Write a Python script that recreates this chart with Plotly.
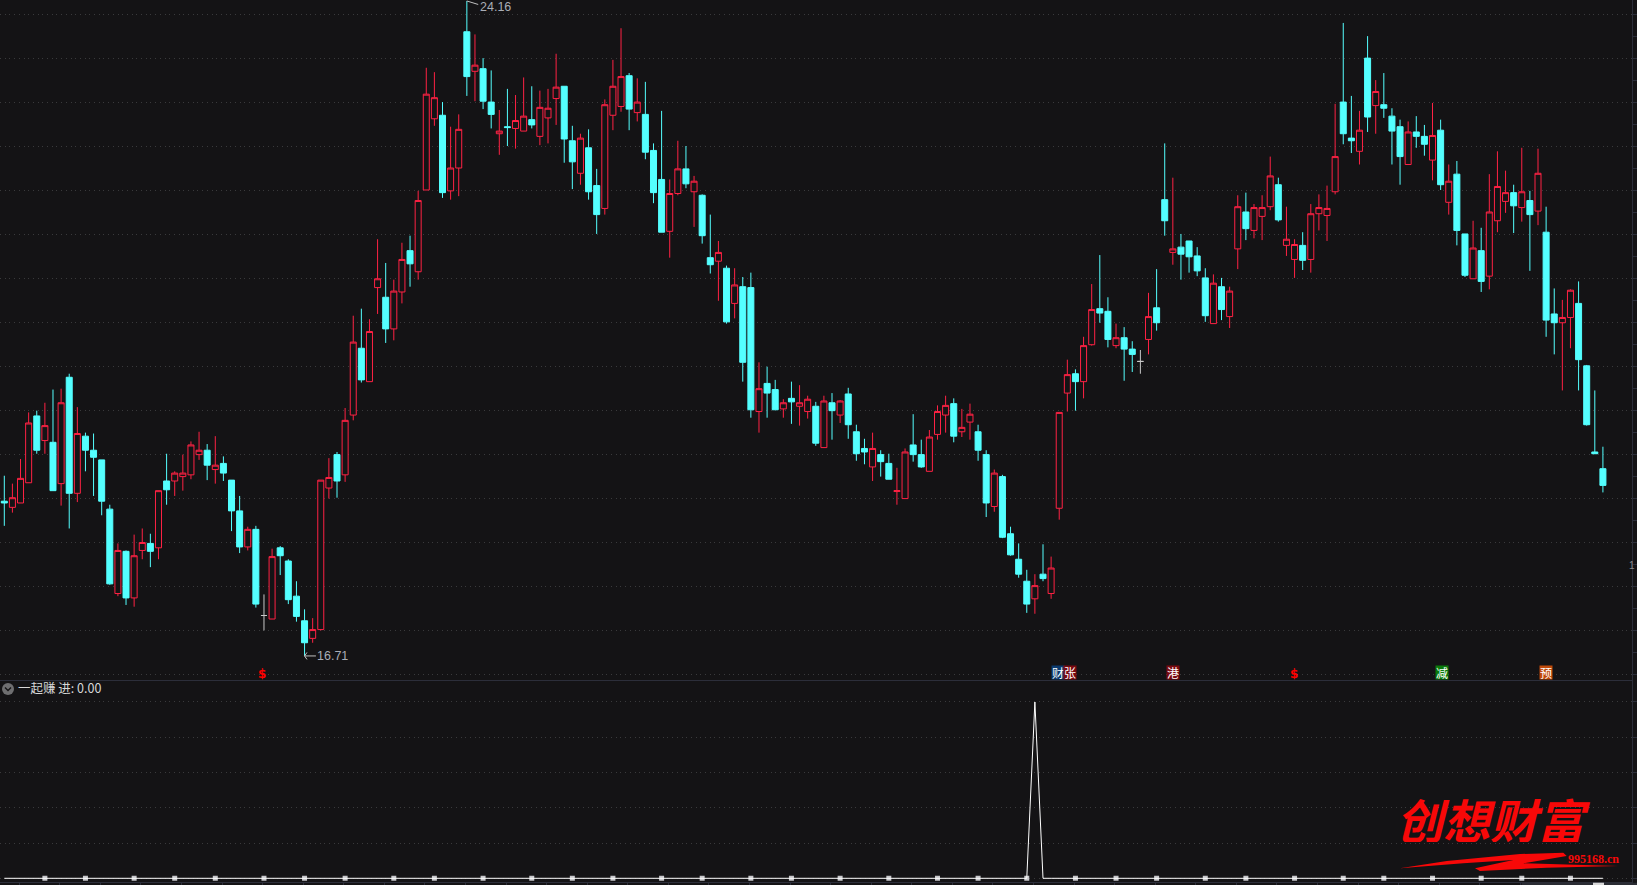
import plotly.graph_objects as go

opens = [18.47,18.40,18.45,18.68,19.44,19.16,19.14,18.67,19.88,18.56,
19.21,19.05,18.94,18.38,17.42,17.90,17.37,17.91,17.99,17.94,
18.70,18.70,18.75,18.77,19.00,19.05,18.83,18.90,18.71,18.36,
17.95,18.15,17.17,17.13,17.94,17.79,17.39,17.11,16.91,17.01,
18.62,19.00,18.77,19.45,20.21,19.83,20.90,20.79,20.43,20.85,
21.32,21.08,22.01,22.82,22.86,22.00,22.26,23.81,23.36,23.39,
23.01,22.65,22.73,22.71,22.68,22.81,22.62,22.83,23.05,23.19,
22.57,22.20,22.49,22.06,21.80,22.86,22.96,23.31,22.89,22.87,
22.46,22.13,21.54,21.97,22.25,21.99,21.95,21.24,21.20,21.12,
20.72,20.91,20.90,19.49,19.81,19.74,19.52,19.64,19.55,19.49,
19.55,19.08,19.59,19.45,19.69,19.26,19.07,18.86,19.00,18.90,
18.58,18.50,19.11,19.00,18.81,19.23,19.45,19.58,19.26,19.37,
19.26,19.00,18.41,18.75,18.10,17.81,17.56,17.36,17.64,17.42,
18.39,19.70,19.92,19.83,20.25,20.66,20.63,20.24,20.33,20.20,
20.06,20.31,20.67,21.90,21.30,21.36,21.43,21.26,21.01,20.49,
20.91,20.57,21.34,21.76,21.55,21.71,21.82,22.07,21.38,21.22,
21.38,21.22,21.74,21.72,21.99,23.01,22.60,22.45,23.51,22.97,
22.98,22.85,22.73,22.30,22.67,22.62,22.35,22.69,21.87,22.19,
21.51,21.00,21.32,21.03,21.66,21.88,21.98,21.81,21.89,21.77,
21.53,20.60,20.50,20.56,20.72,20.01,19.03,18.84]

closes = [18.45,18.51,18.73,19.36,19.05,19.33,18.59,19.59,18.56,19.24,
19.05,18.97,18.47,17.53,17.91,17.37,17.85,18.00,17.90,18.59,
18.60,18.79,18.79,19.11,19.05,18.88,18.88,18.79,18.36,17.95,
18.15,17.30,17.17,17.84,17.85,17.35,17.16,16.86,17.01,18.71,
18.74,18.70,19.39,20.28,19.85,20.40,21.00,20.43,20.86,21.22,
21.17,21.89,23.10,23.06,21.98,22.26,22.70,23.30,23.43,23.02,
22.87,22.68,22.72,22.80,22.85,22.75,22.95,22.94,23.18,22.59,
22.33,22.60,21.99,21.73,22.98,23.19,23.30,22.93,23.01,22.44,
21.98,21.53,21.97,22.25,22.08,22.11,21.49,21.16,21.30,20.51,
20.93,20.05,19.51,19.75,19.70,19.51,19.59,19.60,19.59,19.63,
19.13,19.61,19.50,19.61,19.34,19.01,19.03,19.07,18.92,18.72,
18.59,19.03,19.00,18.86,19.20,19.49,19.56,19.21,19.31,19.46,
19.05,18.45,18.79,18.06,17.86,17.64,17.30,17.51,17.59,17.71,
19.48,19.91,19.83,20.24,20.65,20.61,20.31,20.33,20.20,20.14,
20.06,20.57,20.50,21.66,21.34,21.28,21.25,21.09,20.58,20.95,
20.65,20.86,21.82,21.57,21.81,21.81,22.17,21.67,21.45,21.39,
21.21,21.74,21.81,21.80,22.39,22.65,22.57,22.69,22.84,23.13,
22.94,22.68,22.39,22.67,22.62,22.53,22.63,22.07,22.11,21.55,
21.04,21.35,20.97,21.76,22.05,21.98,21.83,21.99,21.73,22.20,
20.53,20.50,20.56,20.87,20.08,19.34,19.01,18.65]

highs = [18.76,18.67,18.95,19.48,19.50,19.59,19.74,19.75,19.92,19.54,
19.25,19.24,18.94,18.43,17.99,17.91,18.09,18.16,18.10,18.59,
19.01,18.81,19.00,19.15,19.26,19.12,19.21,18.98,18.71,18.53,
18.18,18.19,17.41,17.93,17.96,17.81,17.56,17.24,17.14,18.71,
18.96,19.03,19.53,20.58,20.66,20.54,21.45,21.18,20.99,21.41,
21.49,22.00,23.40,23.35,23.01,22.73,22.87,24.16,23.78,23.51,
23.37,22.92,23.16,23.09,23.29,23.19,23.14,23.16,23.56,23.19,
22.74,22.65,22.70,22.25,23.04,23.49,23.85,23.34,23.28,23.24,
22.54,22.91,22.13,22.57,22.51,22.17,21.96,21.73,21.43,21.15,
21.12,21.02,21.07,20.05,20.00,19.85,19.63,19.83,19.79,19.67,
19.60,19.67,19.70,19.62,19.76,19.34,19.18,19.25,19.05,19.01,
18.85,19.07,19.46,19.17,19.28,19.56,19.67,19.64,19.52,19.58,
19.34,19.05,18.83,18.77,18.18,17.99,17.69,17.64,17.98,17.84,
19.48,20.08,19.97,20.34,20.94,21.27,20.79,20.49,20.45,20.29,
20.19,20.84,21.11,22.54,22.15,21.51,21.43,21.36,21.12,21.05,
21.01,20.91,21.95,21.98,21.85,21.95,22.39,22.15,21.82,21.45,
21.53,21.85,21.96,22.06,22.99,23.91,23.08,22.91,23.76,23.26,
23.34,22.94,22.81,22.79,22.85,22.75,23.00,22.81,22.30,22.34,
21.51,21.66,21.58,22.19,22.45,22.23,22.07,22.49,22.00,22.48,
21.82,20.89,20.76,20.88,20.97,20.02,19.73,19.09]

lows = [18.19,18.34,18.45,18.68,19.01,19.01,18.59,18.42,18.16,18.46,
18.81,18.53,18.31,17.52,17.39,17.29,17.27,17.81,17.72,17.81,
18.43,18.53,18.59,18.72,18.94,18.71,18.67,18.70,18.13,17.88,
17.91,17.26,17.00,17.13,17.63,17.30,17.10,16.71,16.86,17.00,
18.50,18.51,18.69,19.39,19.82,19.83,20.60,20.27,20.30,20.72,
20.91,20.99,22.01,22.74,21.92,21.90,21.94,23.08,23.02,22.93,
22.71,22.41,22.51,22.48,22.68,22.71,22.52,22.54,22.75,22.32,
22.02,22.07,21.90,21.51,21.73,22.69,22.90,22.69,22.79,22.36,
21.86,21.53,21.24,21.95,22.03,21.59,21.40,21.06,20.75,20.49,
20.55,19.83,19.42,19.25,19.42,19.51,19.42,19.35,19.33,19.41,
19.10,19.08,19.17,19.36,19.18,18.93,18.89,18.70,18.75,18.72,
18.43,18.50,18.92,18.85,18.81,19.17,19.25,19.14,19.20,19.17,
18.93,18.29,18.35,18.05,17.85,17.60,17.20,17.19,17.56,17.36,
18.26,19.49,19.50,19.64,20.24,20.50,20.22,20.21,19.84,19.94,
19.92,20.14,20.41,21.49,21.16,20.99,21.07,21.03,20.51,20.49,
20.53,20.44,21.11,21.44,21.46,21.44,21.78,21.65,21.26,21.01,
21.10,21.07,21.55,21.43,21.96,22.53,22.43,22.30,22.67,22.65,
22.83,22.30,22.07,22.30,22.49,22.40,22.12,22.01,21.73,21.38,
21.02,21.00,20.85,20.88,21.53,21.75,21.52,21.65,21.09,21.61,
20.34,20.14,19.73,20.21,19.73,19.33,19.01,18.57]

signal_peak_bar = 127
signal_peak_value = 1.0
week_marker_bars = [5,10,16,21,26,32,37,42,48,53,59,65,70,75,81,86,92,97,103,109,115,120,
                    126,132,137,142,148,153,159,165,170,176,182,187,193]

event_labels = ["$", "财", "张", "港", "$", "减", "预"]
event_bars = [32, 130, 130, 144, 159, 177, 190]
event_shift = [-2, -1, 11, 0, -1, 1, 0]
event_bg = [None, "#0b3a6e", "#7a0a10", "#7a0a10", None, "#0a7a0a", "#c04a0a"]

W, H = 1637, 885
BG = "#141315"
RED = "#ff2244"
CYAN = "#54ffff"
GRAY = "#c8c8c8"
GRID = "#3a3a3c"
AXIS = "#2c2e3a"

def px(x): return x / W
def py(y): return 1 - y / H

bars = list(range(len(opens)))
up = [i for i in bars if closes[i] > opens[i]]
down = [i for i in bars if closes[i] < opens[i]]
flat = [i for i in bars if closes[i] == opens[i]]

def pick(seq, idx): return [seq[i] for i in idx]

fig = go.Figure()

def candle(idx, line, fill):
    fig.add_trace(go.Candlestick(
        x=idx, open=pick(opens, idx), high=pick(highs, idx),
        low=pick(lows, idx), close=pick(closes, idx),
        increasing=dict(line=dict(color=line, width=1), fillcolor=fill),
        decreasing=dict(line=dict(color=line, width=1), fillcolor=fill),
        whiskerwidth=0, xaxis="x", yaxis="y", showlegend=False, hoverinfo="skip"))

candle(up, RED, BG)
candle(down, CYAN, CYAN)
candle(flat, GRAY, GRAY)

signal = [0.0] * len(bars)
signal[signal_peak_bar] = signal_peak_value

fig.add_trace(go.Scatter(
    x=week_marker_bars, y=[0.0] * len(week_marker_bars), mode="markers",
    marker=dict(symbol="square", size=5, color="#c8c8cc", line=dict(width=0)),
    xaxis="x2", yaxis="y2", showlegend=False, hoverinfo="skip"))
fig.add_trace(go.Scatter(
    x=bars, y=signal, mode="lines", line=dict(color="#ffffff", width=1),
    xaxis="x2", yaxis="y2", showlegend=False, hoverinfo="skip"))

annotations = [
    dict(xref="x", yref="y", x=57, y=24.16, text="24.16", showarrow=False, xanchor="left",
         yanchor="middle", xshift=11, yshift=-6, font=dict(family="Liberation Sans", size=12.5, color="#a9adb5")),
    dict(xref="x", yref="y", x=37, y=16.71, text="16.71", showarrow=False, xanchor="left",
         yanchor="middle", xshift=10, yshift=0, font=dict(family="Liberation Sans", size=12.5, color="#a9adb5")),
    dict(xref="paper", yref="paper", x=px(16), y=py(687), text="一起赚 进: 0.00", showarrow=False,
         xanchor="left", yanchor="middle", font=dict(family="Noto Sans CJK SC", size=12.5, color="#d8d8d8")),
    dict(xref="paper", yref="paper", x=px(1493), y=py(818), text="<b><i>创想财富</i></b>", showarrow=False,
         width=200, height=48, xanchor="center", yanchor="middle",
         font=dict(family="Noto Sans CJK SC", size=47, color="#f80808")),
    dict(xref="paper", yref="paper", x=px(1593), y=py(859), text="<b>995168.cn</b>", showarrow=False,
         xanchor="center", yanchor="middle", font=dict(family="Liberation Sans Narrow", size=12, color="#f80808")),
    dict(xref="paper", yref="paper", x=px(1637), y=py(565), text="1", showarrow=False,
         xanchor="right", yanchor="middle", font=dict(family="Liberation Sans", size=10, color="#8a8a8a")),
]
for lab, bar, shift, bg in zip(event_labels, event_bars, event_shift, event_bg):
    if bg:
        annotations.append(dict(xref="x", yref="paper", x=bar, y=py(672.7), xshift=shift, text=lab,
            showarrow=False, width=12, height=13, bgcolor=bg, borderpad=0,
            font=dict(family="Noto Sans CJK SC", size=12, color="#ffffff"), xanchor="center", yanchor="middle"))
    else:
        annotations.append(dict(xref="x", yref="paper", x=bar, y=py(674), xshift=shift, text="<b>" + lab + "</b>",
            showarrow=False, font=dict(family="DejaVu Sans", size=12, color="#ff0000"), xanchor="center", yanchor="middle"))

def pts_path(pts):
    return "M " + " L ".join(f"{px(a):.5f},{py(b):.5f}" for a, b in pts) + " Z"

stroke = [(1400,868.3),(1446.7,861),(1520,854),(1563.3,852.7),(1566.7,856),(1523.3,863.3),(1618.3,866),
          (1546.7,867.7),(1480,871),(1475,868.3),(1513.3,860),(1463.3,863.3)]

shapes = [
    dict(type="path", xref="paper", yref="paper", path=pts_path(stroke), fillcolor="#f80808", line=dict(width=0)),
    dict(type="circle", xref="paper", yref="paper", x0=px(2), x1=px(14), y0=py(683), y1=py(695),
         fillcolor="#6e6e70", line=dict(width=0)),
    dict(type="path", xref="paper", yref="paper",
         path=f"M {px(5):.5f},{py(687.5):.5f} L {px(8):.5f},{py(690.5):.5f} L {px(11):.5f},{py(687.5):.5f}",
         line=dict(color="#141315", width=1.3)),
    dict(type="line", xref="x", yref="y", x0=57, y0=24.16, x1=58.4, y1=24.12, line=dict(color="#c0c0c0", width=1)),
    dict(type="line", xref="x", yref="y", x0=37, y0=16.71, x1=38.4, y1=16.71, line=dict(color="#c0c0c0", width=1)),
    dict(type="line", xref="x", yref="y", x0=37, y0=16.71, x1=37.3, y1=16.75, line=dict(color="#c0c0c0", width=1)),
    dict(type="line", xref="x", yref="y", x0=37, y0=16.71, x1=37.3, y1=16.67, line=dict(color="#c0c0c0", width=1)),
    dict(type="rect", xref="paper", yref="paper", x0=px(1521.6), x1=1, y0=0, y1=py(882.7),
         fillcolor="#2a2c33", line=dict(width=0)),
    dict(type="rect", xref="paper", yref="paper", x0=px(1593), x1=px(1604), y0=0, y1=py(882.7),
         fillcolor="#d8d8d8", line=dict(width=0)),
]

grid_dash = "1px,3.7px"
x_range = [-0.53, 200.62]
fig.update_layout(
    width=W, height=H, margin=dict(l=0, r=0, t=0, b=0),
    paper_bgcolor=BG, plot_bgcolor=BG, showlegend=False, hovermode=False,
    boxmode="overlay", boxgap=0.26, boxgroupgap=0,
    annotations=annotations, shapes=shapes,
    xaxis=dict(domain=[0, 1632.3 / W], range=x_range, anchor="y", showgrid=False, zeroline=False,
               showticklabels=False, ticks="", showline=True, linecolor=AXIS, linewidth=1,
               rangeslider=dict(visible=False)),
    yaxis=dict(domain=[py(680.3), 1], range=[16.433, 24.171], anchor="x", side="right", showgrid=True,
               gridcolor=GRID, griddash=grid_dash, gridwidth=1, tick0=24.008, dtick=0.5005, zeroline=False,
               showticklabels=False, ticks="outside", ticklen=4, tickcolor=AXIS, showline=True, linecolor=AXIS,
               minor=dict(ticks="outside", ticklen=4, tickcolor=AXIS, tick0=24.008, dtick=0.25025, showgrid=False)),
    xaxis2=dict(domain=[0, 1632.3 / W], range=x_range, anchor="y2", showgrid=False, zeroline=False,
                showticklabels=False, tick0=11.83, dtick=5, ticks="outside", ticklen=3, tickcolor=AXIS,
                showline=True, linecolor=AXIS, linewidth=1),
    yaxis2=dict(domain=[py(882.3), py(680.3)], range=[-0.0227, 1.123], anchor="x2", side="right", showgrid=True,
                gridcolor=GRID, griddash=grid_dash, gridwidth=1, tick0=0, dtick=0.2, zeroline=False,
                showticklabels=False, ticks="outside", ticklen=4, tickcolor=AXIS, showline=True, linecolor=AXIS),
)

fig.write_html("out.html", config=dict(displayModeBar=False),
               post_script="document.body.style.margin='0';document.body.style.overflow='hidden';")
